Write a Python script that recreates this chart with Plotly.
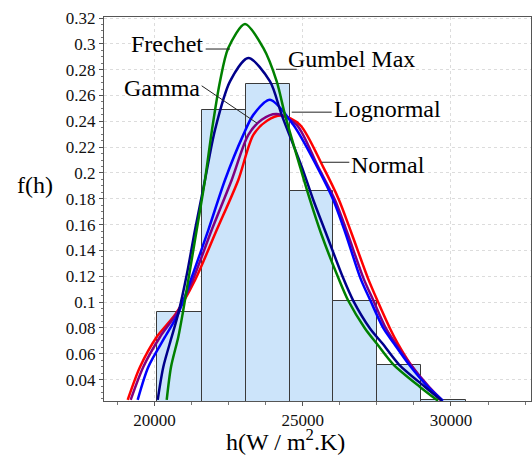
import plotly.graph_objects as go

# ---------------- data ----------------
bin_edges = [20084, 21592, 23076, 24570, 26031, 27515, 29000, 30497]
bin_heights = [0.092, 0.249, 0.269, 0.186, 0.101, 0.0516, 0.0242]

normal_x = [19096, 19511, 20074, 20725, 21366, 22098, 22827, 23333, 23795, 24290, 24908, 25683,
            26223, 26645, 27201, 27522, 27943, 28207, 28645, 29225, 29681]
normal_y = [0.0243, 0.0498, 0.0730, 0.0912, 0.1170, 0.1558, 0.1946, 0.2295, 0.2405, 0.2445, 0.2373, 0.2049,
            0.1791, 0.1533, 0.1184, 0.1010, 0.0796, 0.0679, 0.0516, 0.0343, 0.0236]

gamma_x = [19197, 19622, 20186, 20749, 21288, 21929, 22604, 23164, 23626, 24122, 24796, 25515,
           26088, 26510, 27050, 27387, 27808, 28129, 28635, 29259, 29714]
gamma_y = [0.0243, 0.0498, 0.0730, 0.0912, 0.1170, 0.1558, 0.1946, 0.2295, 0.2414, 0.2456, 0.2373, 0.2049,
           0.1791, 0.1533, 0.1184, 0.1010, 0.0796, 0.0679, 0.0516, 0.0343, 0.0236]

lognormal_x = [19433, 19791, 20354, 20803, 21221, 21815, 22378, 22995, 23333, 23896, 24682, 25481,
               26031, 26442, 26948, 27286, 27724, 28078, 28584, 29225, 29731]
lognormal_y = [0.0243, 0.0498, 0.0730, 0.0912, 0.1170, 0.1558, 0.1946, 0.2295, 0.2450, 0.2567, 0.2373, 0.2049,
               0.1791, 0.1533, 0.1184, 0.1010, 0.0796, 0.0679, 0.0516, 0.0343, 0.0236]

gumbel_x = [20108, 20297, 20580, 20803, 21086, 21366, 21703, 22041, 22547, 23164, 23896, 24290,
            24965, 25356, 25785, 26368, 26706, 27269, 27690, 28247, 29124, 29697]
gumbel_y = [0.0243, 0.0498, 0.0730, 0.0912, 0.1209, 0.1558, 0.1946, 0.2334, 0.2709, 0.2890, 0.2709, 0.2450,
            0.2049, 0.1791, 0.1533, 0.1184, 0.1010, 0.0796, 0.0679, 0.0516, 0.0343, 0.0236]

frechet_x = [20412, 20557, 20803, 20951, 21140, 21423, 21703, 21939, 22209, 22489, 23053, 23670,
             24122, 24402, 24908, 25245, 25616, 26206, 26537, 27100, 27495, 28061, 28955, 29562]
frechet_y = [0.0243, 0.0498, 0.0730, 0.0912, 0.1170, 0.1558, 0.1946, 0.2334, 0.2709, 0.2968, 0.3154, 0.2968,
             0.2709, 0.2450, 0.2049, 0.1791, 0.1533, 0.1184, 0.1010, 0.0796, 0.0679, 0.0516, 0.0343, 0.0236]

x_tickvals = [20000, 25000, 30000]
y_tickvals = [0.04, 0.06, 0.08, 0.1, 0.12, 0.14, 0.16, 0.18, 0.2, 0.22, 0.24, 0.26, 0.28, 0.3, 0.32]

# ---------------- figure ----------------
SERIF = "Liberation Serif, Times New Roman, serif"

centers = [(a + b) / 2 for a, b in zip(bin_edges[:-1], bin_edges[1:])]
widths = [b - a for a, b in zip(bin_edges[:-1], bin_edges[1:])]

fig = go.Figure()
fig.add_trace(go.Bar(x=centers, y=bin_heights, width=widths,
                     marker=dict(color="#cce4fa", line=dict(color="#3a3a3a", width=1)),
                     showlegend=False, hoverinfo="skip"))

curves = [
    (normal_x, normal_y, "#ff0000"),
    (gamma_x, gamma_y, "#800080"),
    (lognormal_x, lognormal_y, "#0000ff"),
    (gumbel_x, gumbel_y, "#00008b"),
    (frechet_x, frechet_y, "#008000"),
]
for xs, ys, col in curves:
    fig.add_trace(go.Scatter(x=xs, y=ys, mode="lines",
                             line=dict(color=col, width=2.5, shape="spline", smoothing=0.8),
                             showlegend=False, hoverinfo="skip"))

# labels with leader lines
labels = [
    ("Frechet", 21703, 0.3001, "right", (21727, 0.2960, 22547, 0.2960)),
    ("Gumbel Max", 24435, 0.2879, "left", (24098, 0.2803, 24796, 0.2803)),
    ("Gamma", 21592, 0.2655, "right", (21592, 0.2675, 23457, 0.2386)),
    ("Lognormal", 25977, 0.2495, "left", (24628, 0.2471, 25977, 0.2471)),
    ("Normal", 26571, 0.2060, "left", (25640, 0.2083, 26571, 0.2083)),
]
for text, tx, ty, anch, (x0, y0, x1, y1) in labels:
    fig.add_shape(type="line", x0=x0, y0=y0, x1=x1, y1=y1, xref="x", yref="y",
                  line=dict(color="#222222", width=1))
    fig.add_annotation(x=tx, y=ty, text=text, showarrow=False, xanchor=anch, yanchor="middle",
                       font=dict(family=SERIF, size=24, color="#000000"))

# axis titles
fig.add_annotation(x=-0.1616, y=0.5626, xref="paper", yref="paper", text="f(h)", showarrow=False,
                   xanchor="center", yanchor="middle", font=dict(family=SERIF, size=24, color="#000"))
fig.add_annotation(x=0.4239, y=-0.1025, xref="paper", yref="paper", text="h(W / m<sup>2</sup>.K)",
                   showarrow=False, xanchor="center", yanchor="middle",
                   font=dict(family=SERIF, size=24, color="#000"))

fig.update_layout(
    width=532, height=455,
    margin=dict(l=104, r=1, t=17, b=54),
    paper_bgcolor="white", plot_bgcolor="white",
    bargap=0,
    font=dict(family=SERIF, size=17, color="#111111"),
)
fig.update_xaxes(range=[18297, 32699], tickvals=x_tickvals, ticktext=[str(v) for v in x_tickvals],
                 showgrid=True, gridcolor="#dcdcdc", griddash="dot", gridwidth=1,
                 showline=True, linecolor="#555555", linewidth=1, mirror=True,
                 ticks="outside", ticklen=4, tickcolor="#555555", zeroline=False,
                 minor=dict(dtick=1250, tick0=0, ticks="outside", ticklen=3, tickcolor="#777777", showgrid=False),
                 tickfont=dict(family=SERIF, size=17, color="#111111"))
fig.update_yaxes(range=[0.0234, 0.3208], tickvals=y_tickvals, ticktext=[f"{v:g}" for v in y_tickvals],
                 showgrid=True, gridcolor="#dcdcdc", griddash="dot", gridwidth=1,
                 showline=True, linecolor="#555555", linewidth=1, mirror=True,
                 ticks="outside", ticklen=4, tickcolor="#555555", zeroline=False,
                 minor=dict(dtick=0.005, tick0=0, ticks="outside", ticklen=2, tickcolor="#777777", showgrid=False),
                 tickfont=dict(family=SERIF, size=17, color="#111111"))

fig.write_html("out.html", config={"displayModeBar": False},
               post_script="document.body.style.margin='0px';document.body.style.overflow='hidden';")
